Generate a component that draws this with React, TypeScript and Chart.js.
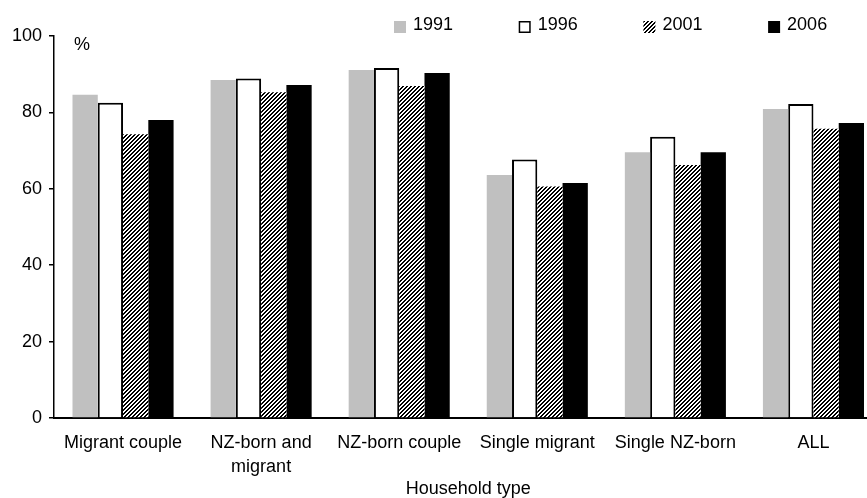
import React, { useEffect, useRef } from "react";
import { Chart, registerables } from "chart.js";

Chart.register(...registerables);

const categories: (string | string[])[] = [
  "Migrant couple",
  ["NZ-born and", "migrant"],
  "NZ-born couple",
  "Single migrant",
  "Single NZ-born",
  "ALL",
];
const years = ["1991", "1996", "2001", "2006"];
const values1991 = [84.6, 88.5, 91.1, 63.6, 69.6, 80.9];
const values1996 = [82.5, 88.9, 91.6, 67.7, 73.6, 82.2];
const values2001 = [74.3, 85.3, 86.9, 60.6, 66.2, 75.7];
const values2006 = [78.0, 87.2, 90.3, 61.5, 69.6, 77.2];
const yTicks = [0, 20, 40, 60, 80, 100];
const xTitle = "Household type";
const yUnit = "%";

const FONT = "'Liberation Sans', Arial, Helvetica, sans-serif";

function makeHatch(): CanvasPattern | string {
  const s = 4;
  const c = document.createElement("canvas");
  c.width = s;
  c.height = s;
  const g = c.getContext("2d");
  if (!g) return "#666";
  g.fillStyle = "#fff";
  g.fillRect(0, 0, s, s);
  g.fillStyle = "#000";
  for (let y = 0; y < s; y++) {
    for (let x = 0; x < s; x++) {
      if ((x + y) % s < 2) g.fillRect(x, y, 1, 1);
    }
  }
  const p = g.createPattern(c, "repeat");
  return p || "#666";
}

const legendAndUnit = {
  id: "legendAndUnit",
  afterDraw(chart: any) {
    const ctx = chart.ctx as CanvasRenderingContext2D;
    const area = chart.chartArea;
    ctx.save();
    ctx.font = `18px ${FONT}`;
    ctx.textBaseline = "middle";
    ctx.textAlign = "left";
    ctx.fillStyle = "#000";
    ctx.fillText(yUnit, area.left + 20, area.top + 9);
    const startX = 394;
    const step = 124.7;
    const boxY = 21;
    const box = 12;
    chart.data.datasets.forEach((ds: any, i: number) => {
      const x = startX + i * step;
      ctx.fillStyle = ds.backgroundColor;
      ctx.fillRect(x, boxY, box, box);
      if (ds.borderWidth) {
        ctx.strokeStyle = ds.borderColor;
        ctx.lineWidth = 1.5;
        ctx.strokeRect(x + 0.75, boxY + 0.75, box - 1.5, box - 1.5);
      }
      ctx.fillStyle = "#000";
      ctx.fillText(ds.label, x + 19, 25);
    });
    ctx.restore();
  },
};

export default function App() {
  const ref = useRef<HTMLCanvasElement | null>(null);

  useEffect(() => {
    if (!ref.current) return;
    Chart.defaults.font.family = FONT;
    const hatch = makeHatch();
    const chart = new Chart(ref.current, {
      type: "bar",
      data: {
        labels: categories,
        datasets: [
          {
            label: years[0],
            data: values1991,
            backgroundColor: "#c0c0c0",
            borderWidth: 0,
          },
          {
            label: years[1],
            data: values1996,
            backgroundColor: "#ffffff",
            borderColor: "#000000",
            borderWidth: 2,
          },
          {
            label: years[2],
            data: values2001,
            backgroundColor: hatch as any,
            borderWidth: 0,
          },
          {
            label: years[3],
            data: values2006,
            backgroundColor: "#000000",
            borderWidth: 0,
          },
        ],
      },
      options: {
        animation: false,
        responsive: false,
        maintainAspectRatio: false,
        layout: { padding: { top: 36, right: 17.5, bottom: 0, left: 0 } },
        plugins: {
          legend: { display: false },
          tooltip: { enabled: false },
          title: { display: false },
        },
        datasets: {
          bar: { categoryPercentage: 0.732, barPercentage: 1 },
        },
        scales: {
          x: {
            z: 1,
            grid: { display: false, drawTicks: false },
            border: { display: true, color: "#000", width: 2 },
            ticks: {
              color: "#000",
              font: { size: 18, lineHeight: 1.35 },
              padding: 13,
              maxRotation: 0,
              autoSkip: false,
            },
            title: {
              display: true,
              text: xTitle,
              color: "#000",
              font: { size: 18, lineHeight: 1 },
              padding: { top: 0, bottom: 0 },
            },
            afterFit: (scale: any) => {
              scale.height = 80;
            },
          },
          y: {
            z: 1,
            min: 0,
            max: 100,
            afterBuildTicks: (scale: any) => {
              scale.ticks = yTicks.map((v) => ({ value: v }));
            },
            grid: {
              display: true,
              drawOnChartArea: false,
              drawTicks: true,
              tickLength: 5,
              color: "#000",
              lineWidth: 1.5,
            },
            border: { display: true, color: "#000", width: 1.5 },
            ticks: {
              color: "#000",
              font: { size: 18 },
              padding: 7,
            },
            afterFit: (scale: any) => {
              scale.width = 54;
            },
          },
        },
      },
      plugins: [legendAndUnit],
    });
    return () => chart.destroy();
  }, []);

  return (
    <div
      style={{
        position: "fixed",
        left: 0,
        top: 0,
        width: 867,
        height: 498,
        overflow: "hidden",
        background: "#fff",
      }}
    >
      <canvas ref={ref} width={900} height={498} style={{ display: "block" }} />
    </div>
  );
}
